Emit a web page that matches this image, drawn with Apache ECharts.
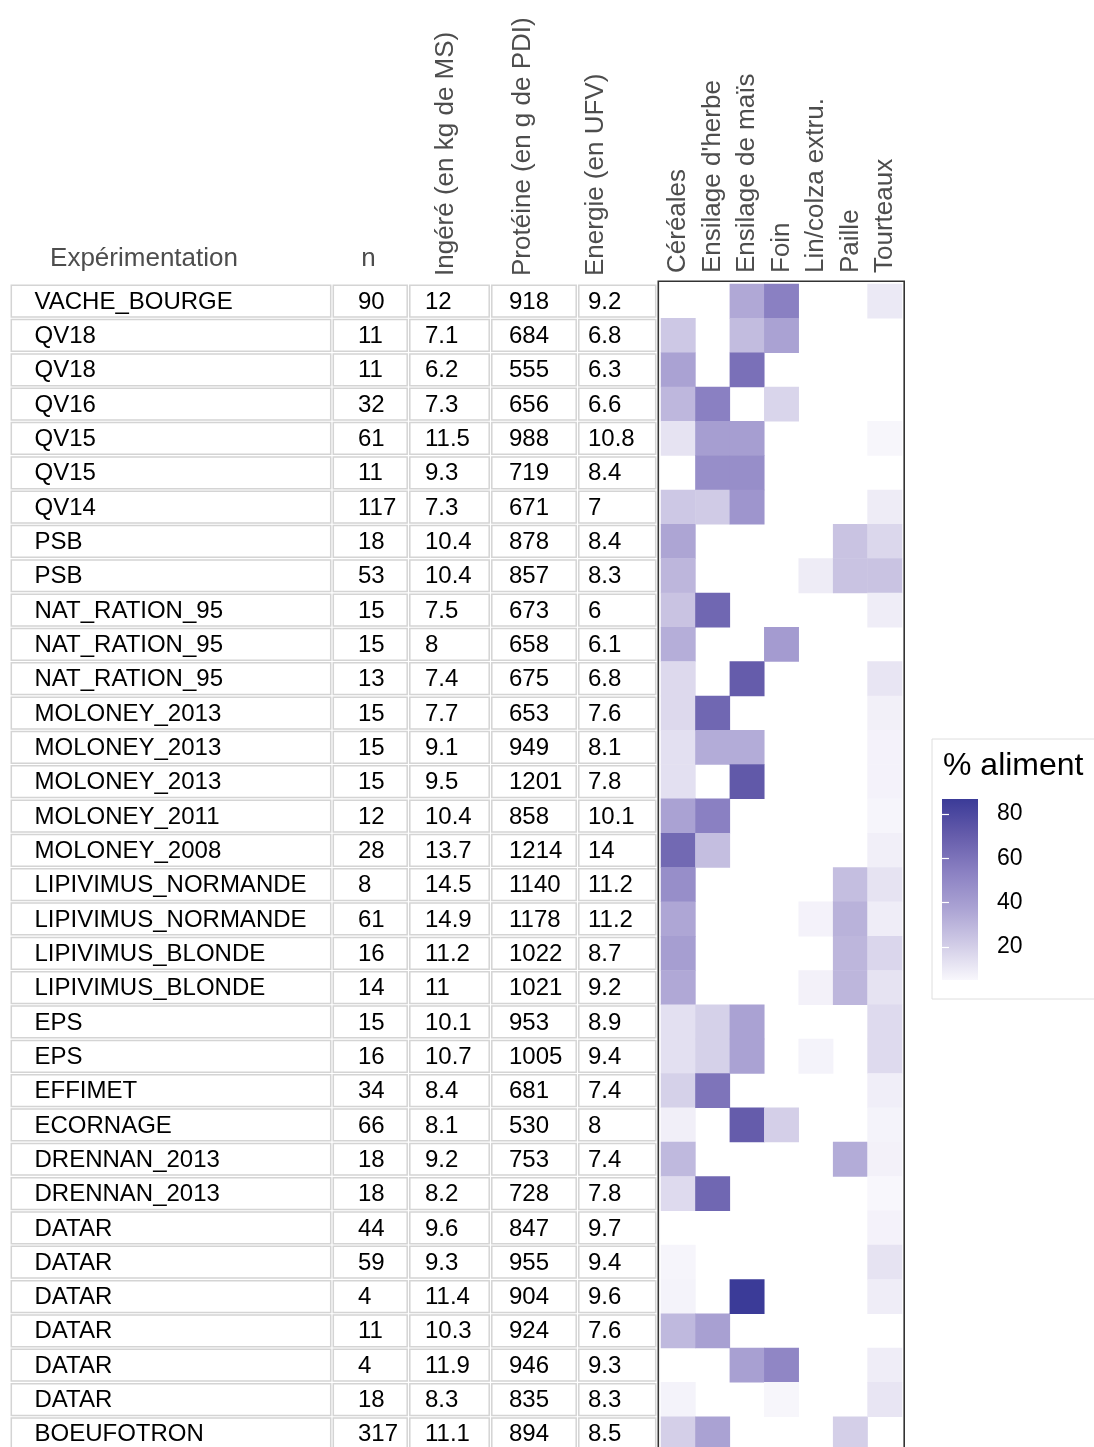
<!DOCTYPE html>
<html><head><meta charset="utf-8">
<script src="https://cdn.jsdelivr.net/npm/echarts@6/dist/echarts.min.js"></script>
<style>html,body{margin:0;padding:0;background:#fff}#c{width:1094px;height:1447px}</style>
</head><body><div id="c"></div>
<script>
// ---------- DATA ----------
const experiments = ['VACHE_BOURGE','QV18','QV18','QV16','QV15','QV15','QV14','PSB','PSB',
  'NAT_RATION_95','NAT_RATION_95','NAT_RATION_95','MOLONEY_2013','MOLONEY_2013','MOLONEY_2013',
  'MOLONEY_2011','MOLONEY_2008','LIPIVIMUS_NORMANDE','LIPIVIMUS_NORMANDE','LIPIVIMUS_BLONDE',
  'LIPIVIMUS_BLONDE','EPS','EPS','EFFIMET','ECORNAGE','DRENNAN_2013','DRENNAN_2013',
  'DATAR','DATAR','DATAR','DATAR','DATAR','DATAR','BOEUFOTRON'];
const nValues = [90,11,11,32,61,11,117,18,53,15,15,13,15,15,15,12,28,8,61,16,14,15,16,34,66,18,18,44,59,4,11,4,18,317];
const ingere = [12,7.1,6.2,7.3,11.5,9.3,7.3,10.4,10.4,7.5,8,7.4,7.7,9.1,9.5,10.4,13.7,14.5,14.9,11.2,11,10.1,10.7,8.4,8.1,9.2,8.2,9.6,9.3,11.4,10.3,11.9,8.3,11.1];
const proteine = [918,684,555,656,988,719,671,878,857,673,658,675,653,949,1201,858,1214,1140,1178,1022,1021,953,1005,681,530,753,728,847,955,904,924,946,835,894];
const energie = [9.2,6.8,6.3,6.6,10.8,8.4,7,8.4,8.3,6,6.1,6.8,7.6,8.1,7.8,10.1,14,11.2,11.2,8.7,9.2,8.9,9.4,7.4,8,7.4,7.8,9.7,9.4,9.6,7.6,9.3,8.3,8.5];
const tableHeaders = ['Expérimentation','n','Ingéré (en kg de MS)','Protéine (en g de PDI)','Energie (en UFV)'];

const feeds = ['Céréales',"Ensilage d'herbe",'Ensilage de maïs','Foin','Lin/colza extru.','Paille','Tourteaux'];
const cereales =      [null,22.7,37.8,29.4,12.6,null,22.7,36.6,29.8,24.7,33,16.3,16.3,13.7,13.7,37.8,64.5,47.4,36.2,39.7,35.4,13.7,13.7,19.3,8.2,28.6,15.9,null,6,6.7,28.6,null,6.7,20];
const ensilageHerbe = [null,null,null,54.1,39.7,47.4,21.5,null,null,65.4,null,null,65.4,33.8,null,54.1,26.7,null,null,null,null,19.3,19.3,59.5,null,null,65.4,null,null,null,38.8,null,null,37.8];
const ensilageMais =  [35.4,27.5,61.3,null,39.7,47.4,44,null,null,null,null,70.4,null,33.8,71.9,null,null,null,null,null,null,37.8,37.8,null,70.4,null,null,null,null,86.7,null,38.8,null,null];
const foin =          [54.1,37.8,null,17.8,null,null,null,null,null,null,41.1,null,null,null,null,null,null,null,null,null,null,null,null,null,20,null,null,null,null,null,null,51.2,5.6,null];
const linColza =      [null,null,null,null,null,null,null,null,9.3,null,null,null,null,null,null,null,null,null,7,null,7.4,null,6.7,null,null,null,null,null,null,null,null,null,null,null];
const paille =        [null,null,null,null,null,null,null,24.7,24.7,null,null,null,null,null,null,null,null,26.7,31.4,29.8,29.8,null,null,null,null,33.8,null,null,null,null,null,null,null,20];
const tourteaux =     [10.4,null,null,null,5.6,null,9.3,17,24.7,8.9,null,11.9,7.8,7,7,6,8.2,12.6,8.9,17.4,12.6,15.9,15.9,8.5,6.7,7.4,5.2,7,12.6,8.9,null,8.9,11.9,null];
const legendTitle = '% aliment';
const legendTicks = [20,40,60,80];

// ---------- BUILD ----------
const FONT = 'Liberation Sans';
const ROW_TOP = 284, ROW_H = 1167;
const rowIds = experiments.map((_, i) => String(i));
const feedArrays = [cereales, ensilageHerbe, ensilageMais, foin, linColza, paille, tourteaux];
const heatData = [];
feedArrays.forEach((arr, j) => arr.forEach((v, i) => { if (v != null) heatData.push([j, i, v]); }));
const allVals = heatData.map(d => d[2]);
const vMin = Math.min(...allVals), vMax = Math.max(...allVals);
const scaleColors = ['#f8f7fc','#d0cbe6','#aaa2d3','#8a80c2','#655cab','#3b3b98'];

// table column layout; headerX = centre of the header text
const tableCols = [
  {values: experiments, left: 10,    right: 332,   pad: 24.5, rotate: 0,   headerX: 144,   margin: 12},
  {values: nValues,     left: 332,   right: 408.5, pad: 26,   rotate: 0,   headerX: 368.5, margin: 12},
  {values: ingere,      left: 408.5, right: 490.5, pad: 16.5, rotate: -90, headerX: 445.5, margin: 8},
  {values: proteine,    left: 490.5, right: 577.5, pad: 18.5, rotate: -90, headerX: 523,   margin: 8},
  {values: energie,     left: 577.5, right: 657,   pad: 10.5, rotate: -90, headerX: 596,   margin: 8}
];

function cellRenderer(values, pad) {
  return function (params, api) {
    const c = api.coord([api.value(0), api.value(1)]);
    const s = api.size([1, 1]);
    const x0 = c[0] - s[0] / 2, y0 = c[1] - s[1] / 2;
    const ins = 1.3;
    return {type: 'group', children: [
      {type: 'rect', shape: {x: x0 + ins, y: y0 + ins, width: s[0] - 2 * ins, height: s[1] - 2 * ins},
       style: {fill: '#fff', stroke: '#d4d4d4', lineWidth: 1.5}},
      {type: 'text', x: x0 + pad, y: c[1] + 1,
       style: {text: String(values[params.dataIndex]), fill: '#000', fontSize: 24, fontFamily: FONT,
               align: 'left', verticalAlign: 'middle'}}
    ]};
  };
}

const grid = [], xAxis = [], yAxis = [], series = [];
// table body grids (0..4)
tableCols.forEach((c, k) => {
  grid.push({left: c.left, top: ROW_TOP, width: c.right - c.left, height: ROW_H, outerBoundsMode: 'none'});
  xAxis.push({gridIndex: k, type: 'category', data: [tableHeaders[k]], show: false});
  yAxis.push({gridIndex: k, type: 'category', data: rowIds, inverse: true, show: false});
  series.push({type: 'custom', xAxisIndex: k, yAxisIndex: k, silent: true,
    data: c.values.map((v, i) => [0, i]), encode: {x: 0, y: 1},
    renderItem: cellRenderer(c.values, c.pad)});
});

// frame around heatmap (grid 5)
grid.push({left: 658.3, top: 281.3, width: 245.9, height: 1190, show: true, borderColor: '#333',
  borderWidth: 1.6, backgroundColor: 'transparent', outerBoundsMode: 'none'});
xAxis.push({gridIndex: 5, type: 'value', show: false});
yAxis.push({gridIndex: 5, type: 'value', show: false});

// heatmap (grid 6)
grid.push({left: 661, top: ROW_TOP, width: 241, height: ROW_H, outerBoundsMode: 'none'});
xAxis.push({gridIndex: 6, type: 'category', data: feeds, position: 'top',
  axisLine: {show: false}, axisTick: {show: false}, splitLine: {show: false},
  axisLabel: {interval: 0, rotate: -90, margin: 11, fontSize: 26, lineHeight: 26, fontFamily: FONT, color: '#4d4d4d'}});
yAxis.push({gridIndex: 6, type: 'category', data: rowIds, inverse: true, show: false});
const heatSeriesIndex = series.length;
series.push({type: 'heatmap', xAxisIndex: 6, yAxisIndex: 6, data: heatData, silent: true,
  itemStyle: {borderWidth: 0}, emphasis: {disabled: true}});

// colorbar (grid 7)
grid.push({left: 942, top: 799, width: 36, height: 181, outerBoundsMode: 'none'});
xAxis.push({gridIndex: 7, type: 'value', min: 0, max: 1, show: false});
const cbAxisCommon = {gridIndex: 7, type: 'value', min: vMin, max: vMax, z: 10,
  axisLine: {show: false}, splitLine: {show: false}};
yAxis.push(Object.assign({}, cbAxisCommon, {position: 'right',
  axisTick: {show: true, inside: true, length: 7, customValues: legendTicks, lineStyle: {color: '#fff', width: 1.2}},
  axisLabel: {customValues: legendTicks, margin: 19, fontSize: 23, fontFamily: FONT, color: '#000'}}));
yAxis.push(Object.assign({}, cbAxisCommon, {position: 'left',
  axisTick: {show: true, inside: true, length: 7, customValues: legendTicks, lineStyle: {color: '#fff', width: 1.2}},
  axisLabel: {show: false}}));
series.push({type: 'custom', xAxisIndex: 7, yAxisIndex: 7, silent: true,
  data: [[0, vMin, vMax]], encode: {x: 0, y: [1, 2]},
  renderItem: function (params, api) {
    const p0 = api.coord([0, api.value(1)]);
    const p1 = api.coord([1, api.value(2)]);
    return {type: 'rect', shape: {x: p0[0], y: p1[1], width: p1[0] - p0[0], height: p0[1] - p1[1]},
      style: {fill: {type: 'linear', x: 0, y: 1, x2: 0, y2: 0,
        colorStops: scaleColors.map((col, i) => ({offset: i / (scaleColors.length - 1), color: col}))}}};
  }});

// table header axes (one thin grid per header, centred on the header position)
tableCols.forEach((c, k) => {
  const gi = grid.length;
  grid.push({left: c.headerX - 10, top: ROW_TOP, width: 20, height: 10, outerBoundsMode: 'none'});
  xAxis.push({gridIndex: gi, type: 'category', data: [tableHeaders[k]], position: 'top',
    axisLine: {show: false}, axisTick: {show: false}, splitLine: {show: false},
    axisLabel: {interval: 0, rotate: c.rotate, margin: c.margin, fontSize: 26, lineHeight: 26,
      fontFamily: FONT, color: '#4d4d4d'}});
  yAxis.push({gridIndex: gi, type: 'category', data: [''], inverse: true, show: false});
});

const option = {
  animation: false,
  backgroundColor: '#fff',
  title: {text: legendTitle, left: 943, top: 750, padding: 0,
    textStyle: {fontSize: 32, fontWeight: 'normal', color: '#000', fontFamily: FONT}},
  graphic: [{type: 'rect', left: 929.5, top: 736.5, shape: {width: 180, height: 260},
    style: {fill: 'none', stroke: '#dedede', lineWidth: 1}, z: -1}],
  visualMap: {type: 'continuous', show: false, min: vMin, max: vMax, dimension: 2,
    seriesIndex: heatSeriesIndex, inRange: {color: scaleColors}},
  grid, xAxis, yAxis, series
};
const chart = echarts.init(document.getElementById('c'), null, {renderer: 'canvas'});
chart.setOption(option);
</script></body></html>
